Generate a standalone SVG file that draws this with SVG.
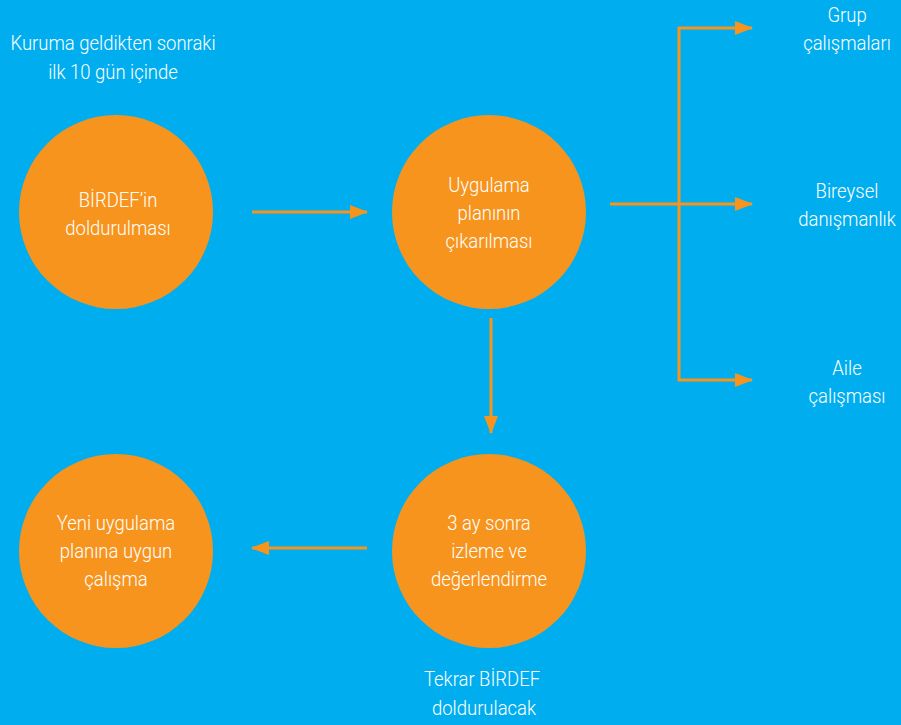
<svg xmlns="http://www.w3.org/2000/svg" width="901" height="725" viewBox="0 0 901 725">
<defs>
<style>
.bg{fill:#00AEEF}
.node{fill:#F7941D}
.t{font-family:Roboto,"Liberation Sans",sans-serif;font-weight:300;font-size:21px;fill:#FFFFFF;text-anchor:middle}
.c{stroke:#F7941D;stroke-width:3;fill:none}
</style>
<marker id="ah" markerWidth="18" markerHeight="14" refX="17" refY="7" orient="auto" markerUnits="userSpaceOnUse">
<path d="M0,0 L18,7 L0,14 Z" fill="#F7941D"/>
</marker>
</defs>
<rect class="bg" x="0" y="0" width="901" height="725"/>
<g id="label-top">
<text class="t" transform="translate(113 50) scale(0.88 1)">Kuruma geldikten sonraki</text>
<text class="t" transform="translate(113 79) scale(0.88 1)">ilk 10 gün içinde</text>
</g>
<g id="n1">
<circle class="node" cx="116" cy="212" r="97"/>
<text class="t" transform="translate(118 207) scale(0.88 1)">BİRDEF’in</text>
<text class="t" transform="translate(118 235) scale(0.88 1)">doldurulması</text>
</g>
<g id="n2">
<circle class="node" cx="489" cy="212" r="97"/>
<text class="t" transform="translate(489 192) scale(0.88 1)">Uygulama</text>
<text class="t" transform="translate(489 220) scale(0.88 1)">planının</text>
<text class="t" transform="translate(489 248) scale(0.88 1)">çıkarılması</text>
</g>
<g id="n3">
<circle class="node" cx="489" cy="551" r="97"/>
<text class="t" transform="translate(489 530) scale(0.88 1)">3 ay sonra</text>
<text class="t" transform="translate(489 558) scale(0.88 1)">izleme ve</text>
<text class="t" transform="translate(489 586) scale(0.88 1)">değerlendirme</text>
</g>
<g id="n4">
<circle class="node" cx="116" cy="551" r="97"/>
<text class="t" transform="translate(116 530) scale(0.88 1)">Yeni uygulama</text>
<text class="t" transform="translate(116 558) scale(0.88 1)">planına uygun</text>
<text class="t" transform="translate(116 586) scale(0.88 1)">çalışma</text>
</g>
<g id="label-bottom">
<text class="t" transform="translate(482 686) scale(0.88 1)">Tekrar BİRDEF</text>
<text class="t" transform="translate(484 715) scale(0.88 1)">doldurulacak</text>
</g>
<g id="r1">
<text class="t" transform="translate(847 22) scale(0.88 1)">Grup</text>
<text class="t" transform="translate(847 50) scale(0.88 1)">çalışmaları</text>
</g>
<g id="r2">
<text class="t" transform="translate(847 198) scale(0.88 1)">Bireysel</text>
<text class="t" transform="translate(847 226) scale(0.88 1)">danışmanlık</text>
</g>
<g id="r3">
<text class="t" transform="translate(847 375) scale(0.88 1)">Aile</text>
<text class="t" transform="translate(847 403) scale(0.88 1)">çalışması</text>
</g>
<g id="connectors">
<line class="c" x1="252" y1="212" x2="367" y2="212" marker-end="url(#ah)"/>
<line class="c" x1="610" y1="204" x2="752" y2="204" marker-end="url(#ah)"/>
<polyline class="c" points="679,204 679,28 752,28" marker-end="url(#ah)"/>
<polyline class="c" points="679,204 679,380 752,380" marker-end="url(#ah)"/>
<line class="c" x1="491" y1="318" x2="491" y2="433" marker-end="url(#ah)"/>
<line class="c" x1="367" y1="548" x2="252" y2="548" marker-end="url(#ah)"/>
</g>
</svg>
